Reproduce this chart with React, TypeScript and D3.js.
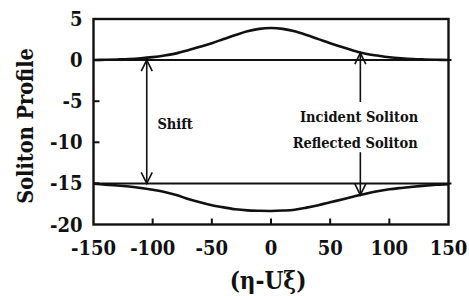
import React from "react";
import * as d3 from "d3";

// values
const xValues = [-150, -140, -130, -120, -110, -100, -90, -80, -70, -60, -50, -40, -30, -20, -10, 0, 10, 20, 30, 40, 50, 60, 70, 80, 90, 100, 110, 120, 130, 140, 150];
const incident = [0.02, 0.04, 0.08, 0.13, 0.22, 0.36, 0.56, 0.82, 1.2, 1.62, 2.06, 2.56, 3.05, 3.5, 3.8, 3.9, 3.8, 3.5, 3.05, 2.55, 2.05, 1.58, 1.15, 0.78, 0.55, 0.35, 0.22, 0.13, 0.08, 0.04, 0.02];
const reflected = [-15.05, -15.15, -15.25, -15.38, -15.55, -15.78, -16.05, -16.42, -16.9, -17.3, -17.65, -17.92, -18.15, -18.28, -18.33, -18.35, -18.3, -18.2, -17.95, -17.65, -17.3, -16.95, -16.6, -16.25, -15.95, -15.72, -15.55, -15.4, -15.27, -15.17, -15.1];
const baseLevels = [0, -15];
const xTicks = [-150, -100, -50, 0, 50, 100, 150];
const yTicks = [5, 0, -5, -10, -15, -20];

// annotations in data units: x, from (tail), to (head), two heads?
const arrows = [
  { x: -105, from: -15, to: 0, both: true },
  { x: 75.5, from: -5.1, to: 0.85, both: false },
  { x: 75.5, from: -11.2, to: -16.4, both: false },
];
const labels = [
  { text: "Shift", x: -96, y: -8.4 },
  { text: "Incident Soliton", x: 24.5, y: -7.5 },
  { text: "Reflected Soliton", x: 18.3, y: -10.65 },
];

const W = 469;
const H = 296;
const margin = { left: 93.5, right: 20.5, top: 19, bottom: 71.5 };
const font = "'DejaVu Serif Condensed', 'DejaVu Serif', serif";

export default function App() {
  const x = d3.scaleLinear().domain([-150, 150]).range([margin.left, W - margin.right]);
  const y = d3.scaleLinear().domain([-20, 5]).range([H - margin.bottom, margin.top]);

  const line = d3
    .line<number>()
    .x((_, i) => x(xValues[i]))
    .y((d) => y(d))
    .curve(d3.curveCatmullRom);

  const head = (px: number, py: number, dir: number) =>
    `M${px - 5.5},${py + dir * 11}L${px},${py}L${px + 5.5},${py + dir * 11}`;

  return (
    <svg
      width={W}
      height={H}
      style={{
        position: "absolute",
        left: 0,
        top: 0,
        background: "#fff",
        fontFamily: font,
        fontWeight: 700,
        fontStretch: "condensed",
      }}
    >
      {/* reference levels */}
      {baseLevels.map((v) => (
        <line key={v} x1={x(-150)} x2={x(150) + 3} y1={y(v)} y2={y(v)} stroke="#111" strokeWidth={2} />
      ))}

      {/* solitons */}
      <path d={line(incident) || ""} fill="none" stroke="#111" strokeWidth={2.6} />
      <path d={line(reflected) || ""} fill="none" stroke="#111" strokeWidth={2.6} />

      {/* arrows */}
      {arrows.map((a, i) => {
        const px = x(a.x);
        const y0 = y(a.from);
        const y1 = y(a.to);
        const dir = y1 < y0 ? 1 : -1;
        return (
          <g key={i} stroke="#111" strokeWidth={1.6} fill="none">
            <line x1={px} x2={px} y1={y0} y2={y1} />
            <path d={head(px, y1, dir)} />
            {a.both && <path d={head(px, y0, -dir)} />}
          </g>
        );
      })}

      {labels.map((l) => (
        <text key={l.text} x={x(l.x)} y={y(l.y)} fontSize={14.5} fill="#111">
          {l.text}
        </text>
      ))}

      {/* frame */}
      <rect
        x={x(-150)}
        y={y(5)}
        width={x(150) - x(-150)}
        height={y(-20) - y(5)}
        fill="none"
        stroke="#111"
        strokeWidth={2.4}
      />

      {/* ticks */}
      {xTicks.slice(1, -1).map((t) => (
        <line key={t} x1={x(t)} x2={x(t)} y1={y(-20)} y2={y(-20) - 6} stroke="#111" strokeWidth={2} />
      ))}
      {yTicks.slice(1, -1).map((t) => (
        <line key={t} x1={x(-150)} x2={x(-150) + 6} y1={y(t)} y2={y(t)} stroke="#111" strokeWidth={2} />
      ))}

      {xTicks.map((t) => (
        <text key={t} x={x(t)} y={y(-20) + 30.5} fontSize={20} textAnchor="middle" fill="#111">
          {t}
        </text>
      ))}
      {yTicks.map((t) => (
        <text key={t} x={x(-150) - 11} y={y(t) + 7} fontSize={20} textAnchor="end" fill="#111">
          {t}
        </text>
      ))}

      <text x={(x(-150) + x(150)) / 2 - 3} y={289} fontSize={24} textAnchor="middle" fill="#111">
        (η-Uξ)
      </text>
      <text
        transform={`translate(32.5,${126}) rotate(-90)`}
        fontSize={21.5}
        textAnchor="middle"
        fill="#111"
      >
        Soliton Profile
      </text>
    </svg>
  );
}
